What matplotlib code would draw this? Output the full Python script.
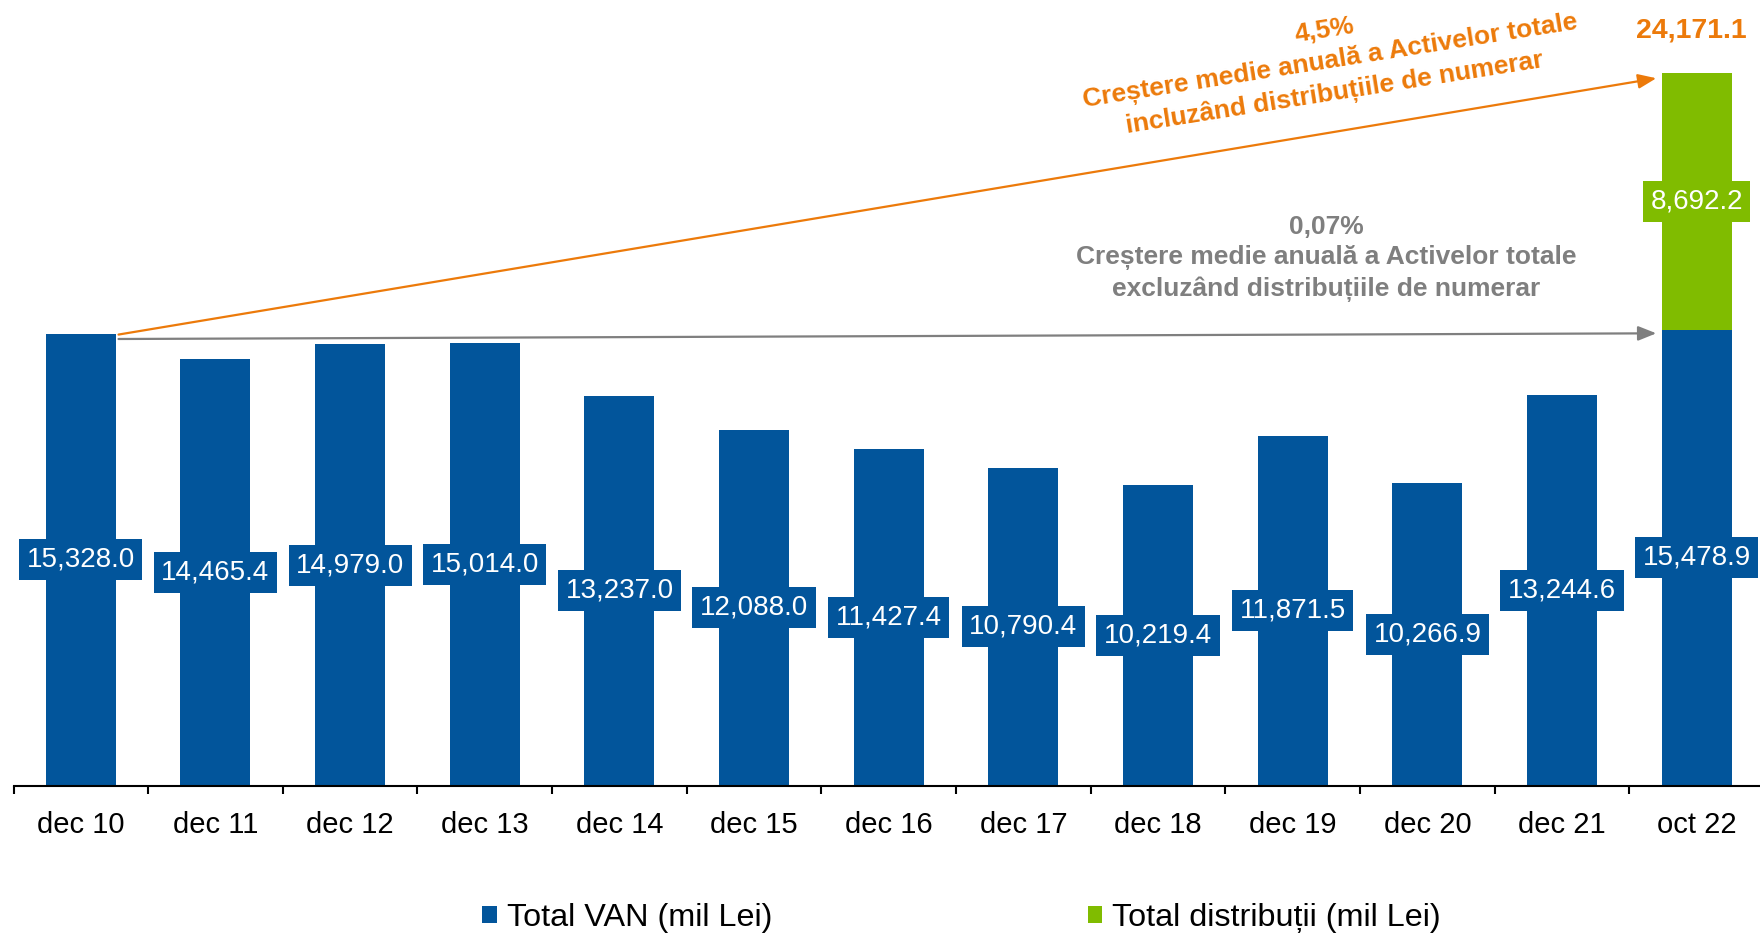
import matplotlib
matplotlib.use('Agg')
import matplotlib.pyplot as plt
from matplotlib.patches import FancyArrowPatch
import numpy as np

plt.rcParams['font.family'] = ['Liberation Sans', 'DejaVu Sans']

# date
categories = ['dec 10', 'dec 11', 'dec 12', 'dec 13', 'dec 14', 'dec 15', 'dec 16',
              'dec 17', 'dec 18', 'dec 19', 'dec 20', 'dec 21', 'oct 22']
total_van = [15328.0, 14465.4, 14979.0, 15014.0, 13237.0, 12088.0, 11427.4,
             10790.4, 10219.4, 11871.5, 10266.9, 13244.6, 15478.9]
total_distributii = 8692.2
total_active = 24171.1

lines_incl = ['4,5%', 'Creștere medie anuală a Activelor totale',
              'incluzând distribuțiile de numerar']
text_excl = '0,07%\nCreștere medie anuală a Activelor totale\nexcluzând distribuțiile de numerar'

blue = '#02559B'
green = '#80BC00'
orange = '#EC7A0A'
gray = '#7F7F7F'

fig = plt.figure(figsize=(17.6, 9.33), dpi=100)
ax = fig.add_axes([13.5 / 1760, 147 / 933, 1746.5 / 1760, 786 / 933])

x = np.arange(len(categories))
bars_van = ax.bar(x, total_van, width=0.52, color=blue, label='Total VAN (mil Lei)')
bar_dist = ax.bar(x[-1], total_distributii, width=0.52, bottom=total_van[-1],
                  color=green, label='Total distribuții (mil Lei)')

# etichete valori
for xi, v in zip(x, total_van):
    ax.text(xi, v / 2, f'{v:,.1f}', ha='center', va='center', color='white', fontsize=20,
            bbox=dict(boxstyle='square,pad=0.27', fc=blue, ec='none'))
ax.text(x[-1], total_van[-1] + total_distributii / 2, f'{total_distributii:,.1f}',
        ha='center', va='center', color='white', fontsize=20,
        bbox=dict(boxstyle='square,pad=0.27', fc=green, ec='none'))
ax.annotate(f'{total_active:,.1f}', xy=(x[-1], total_active), xytext=(-5, 43),
            textcoords='offset pixels', ha='center', va='center', color=orange,
            fontsize=20.5, fontweight='bold')

# sageti
arr_incl = FancyArrowPatch((0.28, total_van[0] - 20), (11.7, 24000),
                           arrowstyle='-|>,head_length=0.55,head_width=0.22',
                           mutation_scale=20, lw=1.6, color=orange, shrinkA=0, shrinkB=0)
arr_excl = FancyArrowPatch((0.28, total_van[0] - 170), (11.7, 15350),
                           arrowstyle='-|>,head_length=0.55,head_width=0.22',
                           mutation_scale=20, lw=1.6, color=gray, shrinkA=0, shrinkB=0)
ax.add_patch(arr_incl)
ax.add_patch(arr_excl)

# text rotit, linie cu linie
ang = 9
for i, line in enumerate(lines_incl):
    k = i - 1
    ax.annotate(line, xy=(9.276, 24551),
                xytext=(32 * np.sin(np.radians(ang)) * k, -32 * np.cos(np.radians(ang)) * k),
                textcoords='offset pixels', rotation=ang, rotation_mode='anchor',
                ha='center', va='center', fontsize=19, fontweight='bold', color=orange)
ax.text(9.247, 17900, text_excl, ha='center', va='center', multialignment='center',
        fontsize=19, fontweight='bold', color=gray, linespacing=1.33)

# axe
ax.set_xlim(-0.5, 12.47)
ax.set_ylim(0, 26653)
ax.set_xticks(x)
ax.set_xticklabels(categories, fontsize=21)
ax.set_xticks(np.arange(-0.5, 12, 1), minor=True)
ax.tick_params(axis='x', which='major', length=0, pad=18)
ax.tick_params(axis='x', which='minor', length=6, width=1.5, direction='out', color='black')
ax.set_yticks([])
for s in ['top', 'right', 'left']:
    ax.spines[s].set_visible(False)
ax.spines['bottom'].set_linewidth(1.5)

fig.legend(handles=[bars_van, bar_dist], loc='center', bbox_to_anchor=(961.5 / 1760, 15 / 933),
           ncol=2, frameon=False, fontsize=23.3, handlelength=0.45, handleheight=0.45,
           handletextpad=0.3, columnspacing=9.75, borderpad=0, borderaxespad=0)

fig.savefig('out.png', dpi=100)
